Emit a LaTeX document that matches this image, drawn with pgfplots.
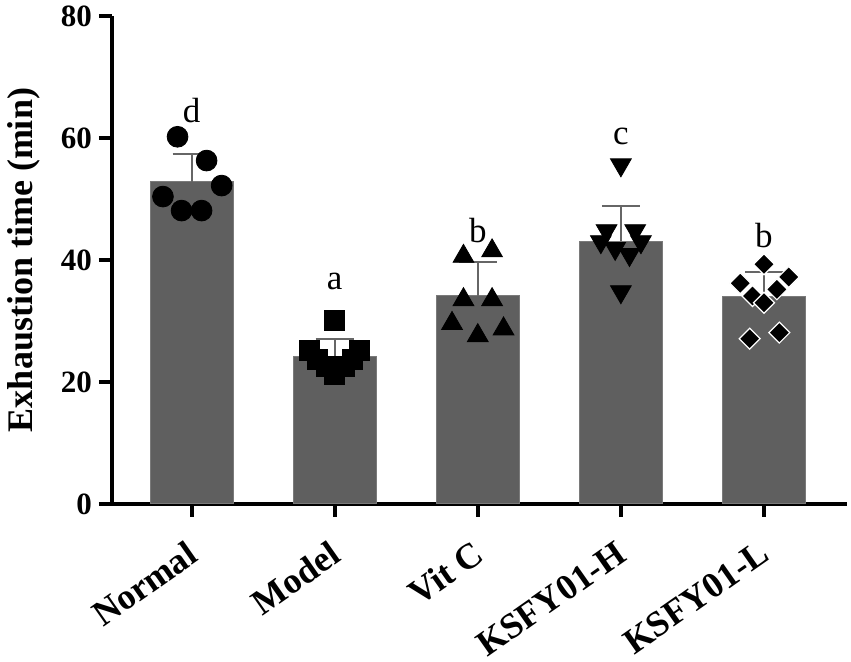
\documentclass[border=0pt]{standalone}
\usepackage{pgfplots}
\pgfplotsset{compat=1.18}
\usepackage{fontspec}
\setmainfont{Liberation Serif}
\definecolor{barfill}{HTML}{5F5F5F}
\definecolor{baredge}{HTML}{7A7A7A}
\definecolor{errgray}{HTML}{666666}
\begin{document}
\begin{tikzpicture}
\useasboundingbox (-56pt,-79pt) rectangle (369.5pt,252pt);
\begin{axis}[
  scale only axis, width=367.5pt, height=244pt,
  at={(0,0)}, anchor=south west,
  xmin=-0.556, xmax=4.58, ymin=0, ymax=80,
  axis x line*=bottom, axis y line*=left,
  axis line style={line width=2pt, -},
  xtick={0,1,2,3,4},
  xticklabels={Normal,Model,Vit C,KSFY01-H,KSFY01-L},
  ytick={0,20,40,60,80},
  tick align=outside, major tick length=6.5pt,
  tick style={line width=2pt, black},
  /pgf/number format/assume math mode=true,
  yticklabel style={font=\fontsize{15.5}{18}\selectfont\bfseries},
  xticklabel style={xshift=-3pt, yshift=-11pt, font=\fontsize{18}{20}\selectfont\bfseries, rotate=35, anchor=north east, inner sep=0pt},
  ylabel={Exhaustion time (min)},
  ylabel style={font=\fontsize{18}{21}\selectfont\bfseries, yshift=3.5pt},
  clip=false,
]
\addplot[ybar, bar width=0.58, fill=barfill, draw=baredge, line width=0.5pt,
  error bars/.cd, y dir=plus, y explicit,
  error bar style={line width=1pt, color=errgray},
  error mark options={rotate=90, mark size=9.5pt, line width=1pt, color=errgray}]
  coordinates {(0,52.8) +- (0,4.5) (1,24.2) +- (0,2.8) (2,34.1) +- (0,5.6) (3,43.1) +- (0,5.8) (4,34.0) +- (0,4.0)};
% Normal
\addplot[only marks, mark=*, mark size=5.2pt, black] coordinates {
  (-0.098,60.2) (0.105,56.3) (0.21,52.2) (-0.2,50.4) (-0.07,48.1) (0.07,48.1)};
% Model
\addplot[only marks, mark=square*, mark size=5pt, black] coordinates {
  (1.0,30.1) (0.825,25.1) (1.17,25.1) (0.88,23.7) (1.126,23.7) (0.944,22.5) (1.07,22.5) (1.0,21.2)};
% Vit C
\addplot[only marks, mark=triangle*, mark size=6pt, black] coordinates {
  (1.9,40.6) (2.1,41.5) (1.9,33.5) (2.1,33.5) (1.82,29.6) (2.18,28.7) (2.0,27.6)};
% KSFY01-H
\addplot[only marks, mark=triangle*, mark size=6pt, black, mark options={rotate=180}] coordinates {
  (3.0,55.6) (2.9,44.8) (3.1,44.8) (2.86,43.0) (3.14,43.0) (2.96,41.9) (3.06,40.9) (3.0,34.8)};
% KSFY01-L
\addplot[only marks, mark=square*, mark size=3.7pt, black, mark options={rotate=45, draw=white, fill=black, line width=0.6pt}] coordinates {
  (4.0,39.3) (3.834,36.2) (4.173,37.2) (3.92,34.1) (4.09,35.2) (4.0,33.0) (3.9,27.1) (4.107,28.1)};
\node[font=\fontsize{17.5}{20}\selectfont] at (axis cs:0,64.5) {d};
\node[font=\fontsize{17.5}{20}\selectfont] at (axis cs:1,36.5) {a};
\node[font=\fontsize{17.5}{20}\selectfont] at (axis cs:2,44.8) {b};
\node[font=\fontsize{17.5}{20}\selectfont] at (axis cs:3,60.2) {c};
\node[font=\fontsize{17.5}{20}\selectfont] at (axis cs:4,44.0) {b};
\end{axis}
\end{tikzpicture}
\end{document}
